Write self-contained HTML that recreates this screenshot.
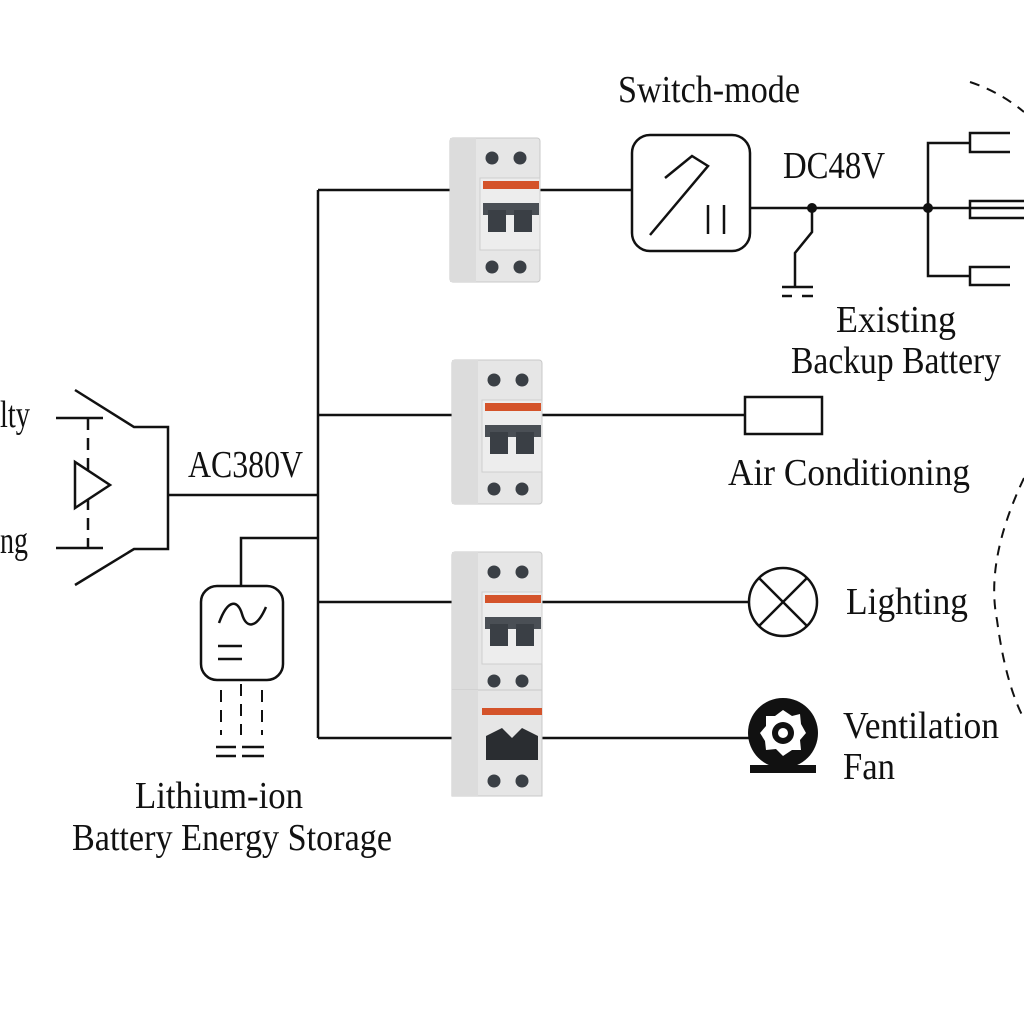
<!DOCTYPE html>
<html><head><meta charset="utf-8"><style>
html,body{margin:0;padding:0;background:#fff;}
svg{display:block;}
text{font-family:"Liberation Serif",serif;font-size:38px;fill:#111;}
</style></head><body>
<svg width="1024" height="1024" viewBox="0 0 1024 1024" xmlns="http://www.w3.org/2000/svg">
<defs>
<g id="brk">
  <rect x="0" y="0" width="90" height="144" rx="3" fill="#e6e6e6" stroke="#c8c8c8"/>
  <rect x="0" y="0" width="26" height="144" fill="#dcdcdc"/>
  <circle cx="42" cy="20" r="6.5" fill="#3a3f45"/>
  <circle cx="70" cy="20" r="6.5" fill="#3a3f45"/>
  <rect x="30" y="40" width="60" height="72" fill="#ededed" stroke="#cfcfcf"/>
  <rect x="33" y="43" width="56" height="8" fill="#d4532a"/>
  <rect x="33" y="65" width="56" height="12" fill="#4a4f55"/>
  <rect x="38" y="72" width="18" height="22" fill="#3a3f45"/>
  <rect x="64" y="72" width="18" height="22" fill="#3a3f45"/>
  <circle cx="42" cy="129" r="6.5" fill="#3a3f45"/>
  <circle cx="70" cy="129" r="6.5" fill="#3a3f45"/>
</g>
</defs>
<g stroke="#111" stroke-width="2.5" fill="none">
  <line x1="318" y1="190" x2="318" y2="738"/>
  <line x1="318" y1="190" x2="455" y2="190"/>
  <line x1="318" y1="415" x2="455" y2="415"/>
  <line x1="318" y1="602" x2="455" y2="602"/>
  <line x1="318" y1="738" x2="455" y2="738"/>
  <line x1="168" y1="495" x2="318" y2="495"/>
  <line x1="56" y1="418" x2="103" y2="418"/>
  <line x1="56" y1="548" x2="103" y2="548"/>
  <line x1="88" y1="418" x2="88" y2="548" stroke-dasharray="12,8"/>
  <polygon points="75,462 75,508 110,485" fill="#fff"/>
  <polyline points="75,390 134,427 168,427 168,549 134,549 75,585"/>
  <polyline points="318,538 241,538 241,586"/>
  <rect x="201" y="586" width="82" height="94" rx="16"/>
  <path d="M219,623 C228,598 238,600 242,614 C246,628 256,630 266,607"/>
  <line x1="218" y1="646" x2="242" y2="646"/>
  <line x1="218" y1="659" x2="242" y2="659"/>
  <g stroke-dasharray="12,8" stroke-width="2">
    <line x1="221" y1="690" x2="221" y2="735"/>
    <line x1="241" y1="684" x2="241" y2="735"/>
    <line x1="262" y1="690" x2="262" y2="735"/>
  </g>
  <line x1="216" y1="747" x2="236" y2="747"/>
  <line x1="242" y1="747" x2="264" y2="747"/>
  <line x1="216" y1="756" x2="236" y2="756"/>
  <line x1="242" y1="756" x2="264" y2="756"/>
  <line x1="538" y1="190" x2="632" y2="190"/>
  <rect x="632" y="135" width="118" height="116" rx="18"/>
  <polyline points="665,178 692,156 708,166 650,235"/>
  <line x1="708" y1="205" x2="708" y2="234"/>
  <line x1="724" y1="205" x2="724" y2="234"/>
  <line x1="750" y1="208" x2="1024" y2="208"/>
  <polyline points="812,208 812,232 795,253 795,287"/>
  <line x1="782" y1="287" x2="813" y2="287"/>
  <line x1="782" y1="296" x2="792" y2="296"/>
  <line x1="802" y1="296" x2="813" y2="296"/>
  <polyline points="970,143 928,143 928,276 970,276"/>
  <polyline points="1010,133 970,133 970,152 1010,152"/>
  <polyline points="1024,201 970,201 970,218 1024,218"/>
  <polyline points="1010,267 970,267 970,285 1010,285"/>
  <path d="M970,82 Q1000,92 1024,112" stroke-dasharray="10,8" stroke-width="2"/>
  <path d="M1024,478 Q985,560 997,620 Q1005,680 1022,715" stroke-dasharray="10,8" stroke-width="2"/>
  <line x1="538" y1="415" x2="745" y2="415"/>
  <rect x="745" y="397" width="77" height="37"/>
  <line x1="538" y1="602" x2="750" y2="602"/>
  <circle cx="783" cy="602" r="34"/>
  <line x1="759" y1="578" x2="807" y2="626"/>
  <line x1="807" y1="578" x2="759" y2="626"/>
  <line x1="538" y1="738" x2="750" y2="738"/>
</g>
<circle cx="812" cy="208" r="5" fill="#111"/>
<circle cx="928" cy="208" r="5" fill="#111"/>
<circle cx="783" cy="733" r="35" fill="#111"/>
<rect x="750" y="765" width="66" height="8" fill="#111"/>
<polygon fill="#fff" points="783,710 792,716 800,714 801,724 806,733 800,740 801,750 792,750 783,756 776,749 766,750 765,741 760,733 766,726 766,716 775,716"/>
<circle cx="783" cy="733" r="11" fill="#111"/>
<circle cx="783" cy="733" r="5" fill="#fff"/>
<use href="#brk" x="450" y="138"/>
<use href="#brk" x="452" y="360"/>
<use href="#brk" x="452" y="552"/>
<g transform="translate(452,690)">
  <rect x="0" y="0" width="90" height="106" fill="#e6e6e6" stroke="#c8c8c8"/>
  <rect x="0" y="0" width="26" height="106" fill="#dcdcdc"/>
  <rect x="30" y="18" width="60" height="7" fill="#d4532a"/>
  <path d="M34,46 L50,38 L60,48 L70,38 L86,46 L86,70 L34,70 Z" fill="#2a2d31"/>
  <circle cx="42" cy="91" r="6.5" fill="#3a3f45"/>
  <circle cx="70" cy="91" r="6.5" fill="#3a3f45"/>
</g>
<text x="0" y="427" textLength="30" lengthAdjust="spacingAndGlyphs">lty</text>
<text x="0" y="553" textLength="28" lengthAdjust="spacingAndGlyphs">ng</text>
<text x="188" y="477" textLength="115" lengthAdjust="spacingAndGlyphs">AC380V</text>
<text x="135" y="808" textLength="168" lengthAdjust="spacingAndGlyphs">Lithium-ion</text>
<text x="72" y="850" textLength="320" lengthAdjust="spacingAndGlyphs">Battery Energy Storage</text>
<text x="618" y="102" textLength="182" lengthAdjust="spacingAndGlyphs">Switch-mode</text>
<text x="783" y="178" textLength="102" lengthAdjust="spacingAndGlyphs">DC48V</text>
<text x="836" y="332" textLength="120" lengthAdjust="spacingAndGlyphs">Existing</text>
<text x="791" y="373" textLength="210" lengthAdjust="spacingAndGlyphs">Backup Battery</text>
<text x="728" y="485" textLength="242" lengthAdjust="spacingAndGlyphs">Air Conditioning</text>
<text x="846" y="614" textLength="122" lengthAdjust="spacingAndGlyphs">Lighting</text>
<text x="843" y="738" textLength="156" lengthAdjust="spacingAndGlyphs">Ventilation</text>
<text x="843" y="779" textLength="52" lengthAdjust="spacingAndGlyphs">Fan</text>
</svg>
</body></html>
